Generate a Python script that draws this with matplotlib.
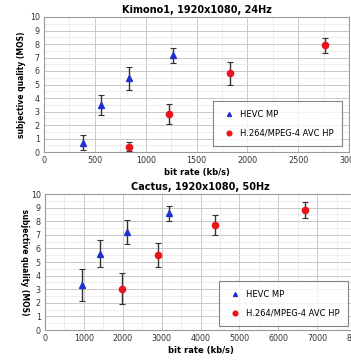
import matplotlib.pyplot as plt
from matplotlib.ticker import MultipleLocator

# ── data ─────────────────────────────────────────────────────
titles = ["Kimono1, 1920x1080, 24Hz", "Cactus, 1920x1080, 50Hz"]
xmax = [3000, 8000]
xstep = [500, 1000]

hevc_x = [[380, 560, 840, 1270], [960, 1420, 2100, 3180]]
hevc_y = [[0.7, 3.5, 5.45, 7.15], [3.3, 5.6, 7.2, 8.6]]
hevc_err = [[0.55, 0.75, 0.85, 0.55], [1.15, 1.0, 0.9, 0.55]]

avc_x = [[840, 1230, 1830, 2760], [1980, 2900, 4380, 6700]]
avc_y = [[0.4, 2.8, 5.85, 7.9], [3.05, 5.5, 7.7, 8.8]]
avc_err = [[0.35, 0.75, 0.85, 0.55], [1.15, 0.9, 0.75, 0.6]]

labels = ["HEVC MP", "H.264/MPEG-4 AVC HP"]

W, H = 351, 360
fig = plt.figure(figsize=(W / 100, H / 100), dpi=100)

# axes boxes in pixels: left, top, right, bottom
boxes = [(44, 17, 349, 152), (45, 194, 356, 330)]
# legend boxes in pixels: left, bottom
leg_pos = [(213, 146), (219, 326)]

for k in range(2):
    l, t, r, b = boxes[k]
    ax = fig.add_axes([l / W, 1 - b / H, (r - l) / W, (b - t) / H])
    ax.errorbar(hevc_x[k], hevc_y[k], yerr=hevc_err[k], fmt='^', color='#1f2fd0',
                ms=3.8, ecolor='#333333', elinewidth=1.0, capsize=2, capthick=0.8,
                label=labels[0], zorder=3)
    ax.errorbar(avc_x[k], avc_y[k], yerr=avc_err[k], fmt='o', color='#e8161b',
                ms=4.5, ecolor='#333333', elinewidth=1.0, capsize=2, capthick=0.8,
                label=labels[1], zorder=3)
    ax.set_xlim(0, xmax[k])
    ax.set_ylim(0, 10)
    ax.xaxis.set_major_locator(MultipleLocator(xstep[k]))
    ax.xaxis.set_minor_locator(MultipleLocator(xstep[k] / 2))
    ax.yaxis.set_major_locator(MultipleLocator(1))
    ax.yaxis.set_minor_locator(MultipleLocator(0.5))
    ax.grid(which='major', color='#c8c8c8', lw=0.7)
    ax.grid(which='minor', color='#e6e6e6', lw=0.5)
    ax.set_axisbelow(True)
    ax.tick_params(which='both', length=0, labelsize=5.8, pad=3, colors='#333333')
    for s in ax.spines.values():
        s.set_color('#9a9a9a')
        s.set_linewidth(0.8)
    ax.set_title(titles[k], fontsize=7, fontweight='bold', pad=3)
    ax.set_xlabel("bit rate (kb/s)", fontsize=6, fontweight='bold', labelpad=2)
    handles, labs = ax.get_legend_handles_labels()
    handles = [h[0] for h in handles]
    lx, ly = leg_pos[k]
    leg = fig.legend(handles, labs, loc='lower left', fontsize=6, frameon=True,
                     fancybox=False, edgecolor='#666666', borderpad=1.0,
                     labelspacing=1.2, handlelength=1.8, handletextpad=0.4,
                     markerscale=0.75, borderaxespad=0,
                     bbox_to_anchor=(lx / W, 1 - ly / H))
    leg.get_frame().set_linewidth(0.8)
    if k == 0:
        ax.set_ylabel("subjective quality (MOS)", fontsize=5.5, fontweight='bold', labelpad=3)
    else:
        ax.set_ylabel("subjective quality (MOS)", fontsize=5.5, fontweight='bold',
                      rotation=270, labelpad=8)

fig.savefig("out.png", dpi=100)
